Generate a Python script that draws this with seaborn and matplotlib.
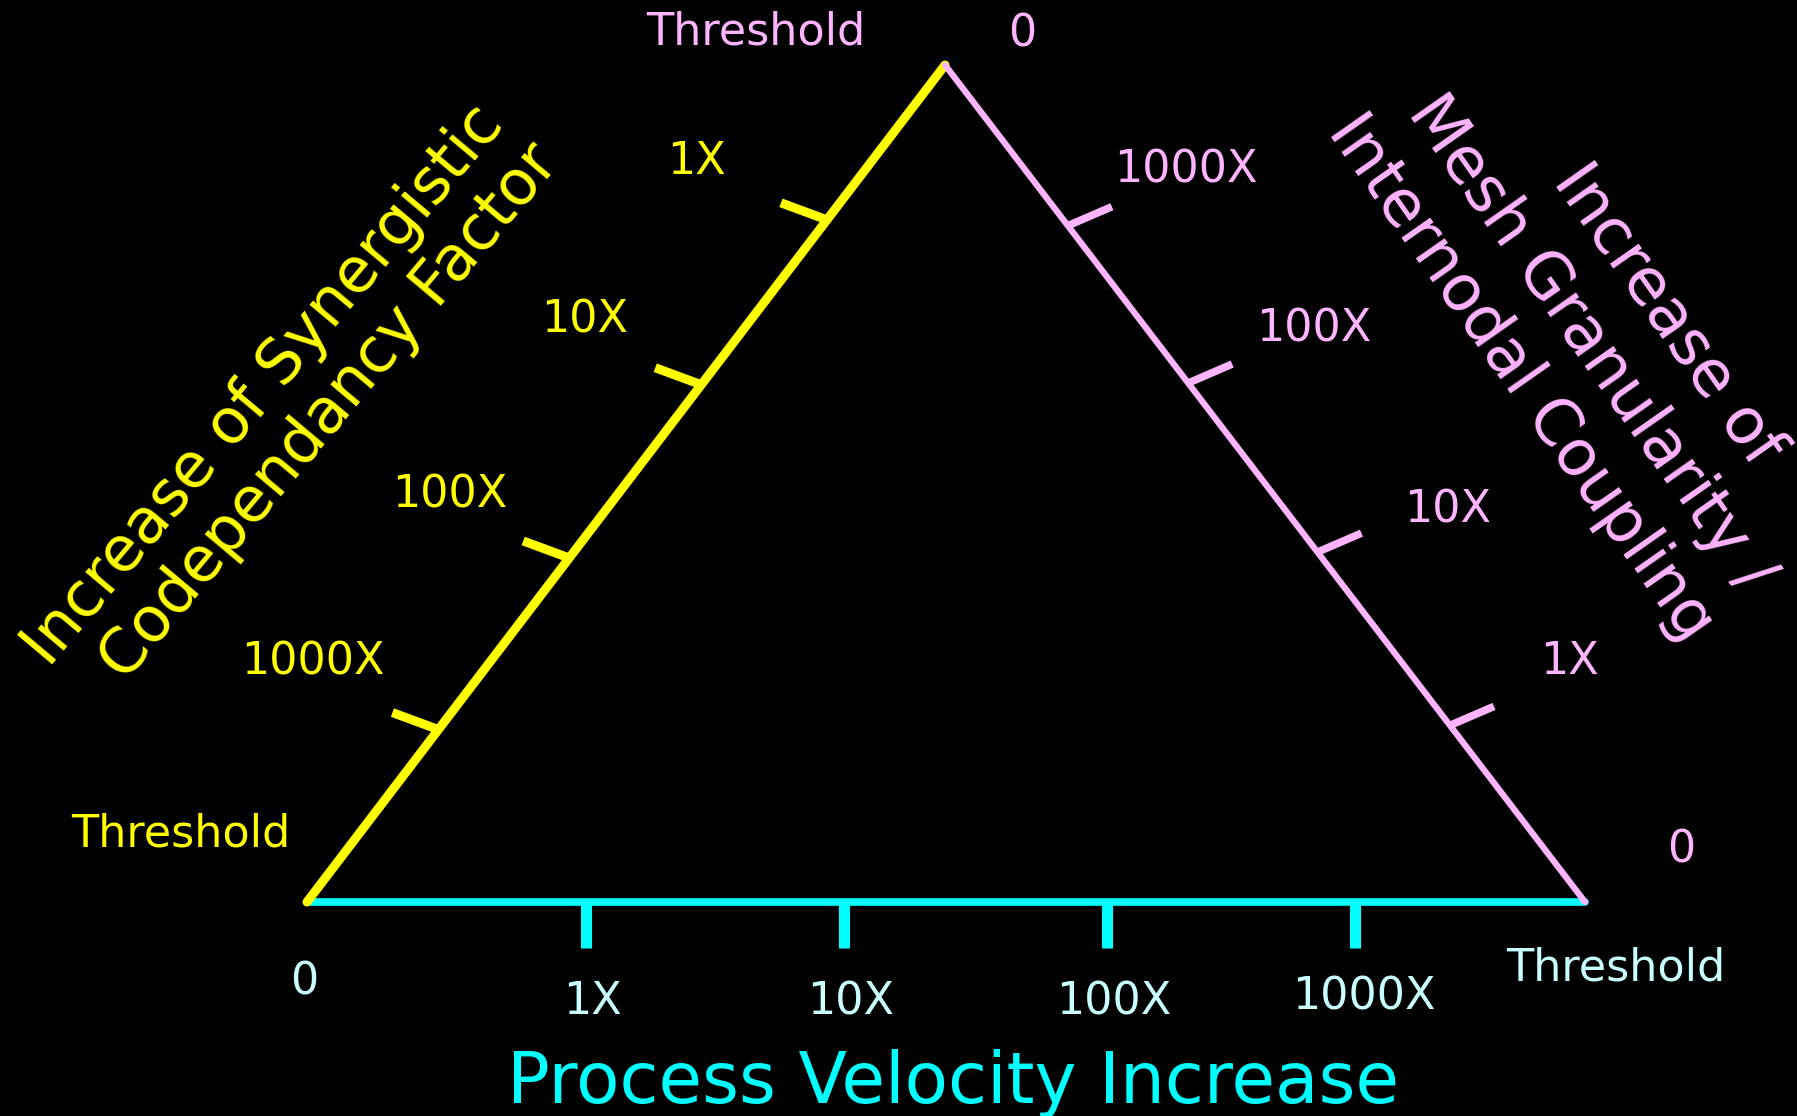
import numpy as np
import pandas as pd
import matplotlib.pyplot as plt
import seaborn as sns

# corners of the triangle in image pixels (x to the right, y downwards)
apex = (945, 65)
bottom_left = (307, 902)
bottom_right = (1585, 902)

tick_labels = ["0", "1X", "10X", "100X", "1000X", "Threshold"]

# position of each tick along its edge, measured from the "0" end
bottom_ticks = [0.0, 0.218, 0.42, 0.626, 0.82, 1.0]   # bottom left -> bottom right
left_ticks = [0.0, 0.185, 0.382, 0.589, 0.794, 1.0]   # apex -> bottom left
right_ticks = [0.0, 0.211, 0.418, 0.62, 0.808, 1.0]   # bottom right -> apex

left_title = ["Increase of Synergistic", "Codependancy Factor"]
right_title = ["Increase of", "Mesh Granularity /", "Internodal Coupling"]
bottom_title = "Process Velocity Increase"

YELLOW = "#ffff00"
CYAN = "#00ffff"
PALE_CYAN = "#c8ffff"
PINK = "#ffb4ff"

edges = {
    "bottom": dict(start=bottom_left, end=bottom_right, ticks=bottom_ticks,
                   color=CYAN, lw=5.5, tick_lw=8, tick_vec=(0, 46),
                   label_colors=[PALE_CYAN] * 6,
                   label_offsets=[(-3, 80), (7, 100), (7, 100), (7, 100), (9, 95), (31, 66)]),
    "left": dict(start=apex, end=bottom_left, ticks=left_ticks,
                 color=YELLOW, lw=6.5, tick_lw=6.5, tick_vec=(-46, -17),
                 label_colors=[PINK] + [YELLOW] * 5,
                 label_offsets=[(77, -31), (-130, -58), (-117, -65), (-119, -63), (-126, -68), (-126, -68)]),
    "right": dict(start=bottom_right, end=apex, ticks=right_ticks,
                  color=PINK, lw=4.5, tick_lw=5.5, tick_vec=(44, -19),
                  label_colors=[PINK] * 6,
                  label_offsets=[(96, -52), (120, -64), (130, -42), (126, -54), (118, -56), (-189, -33)]),
}

sns.set_theme(style="dark")
plt.rcParams["font.family"] = ["DejaVu Sans"]

fig = plt.figure(figsize=(17.97, 11.16), dpi=100, facecolor="black")
ax = fig.add_axes([0, 0, 1, 1])
ax.set_facecolor("black")
ax.set_xlim(0, 1797)
ax.set_ylim(1116, 0)
ax.axis("off")


def along(e, f):
    (x0, y0), (x1, y1) = e["start"], e["end"]
    return x0 + f * (x1 - x0), y0 + f * (y1 - y0)


for name, e in edges.items():
    line = pd.DataFrame({"x": [e["start"][0], e["end"][0]],
                         "y": [e["start"][1], e["end"][1]]})
    sns.lineplot(data=line, x="x", y="y", color=e["color"], linewidth=e["lw"],
                 sort=False, estimator=None, solid_capstyle="round", ax=ax)

    # tick marks for the inner four values
    rows = []
    for i, f in enumerate(e["ticks"][1:-1]):
        px, py = along(e, f)
        rows.append((px, py, i))
        rows.append((px + e["tick_vec"][0], py + e["tick_vec"][1], i))
    ticks = pd.DataFrame(rows, columns=["x", "y", "tick"])
    sns.lineplot(data=ticks, x="x", y="y", units="tick", color=e["color"],
                 linewidth=e["tick_lw"], sort=False, estimator=None,
                 solid_capstyle="butt", ax=ax)

    for lab, f, (dx, dy), c in zip(tick_labels, e["ticks"], e["label_offsets"], e["label_colors"]):
        px, py = along(e, f)
        ax.text(px + dx, py + dy, lab, color=c, fontsize=32, ha="center", va="center")

ax.set_xlabel("")
ax.set_ylabel("")

# axis titles
for txt, (cx, cy) in zip(left_title, [(264, 386), (330, 412)]):
    ax.text(cx, cy, txt, color=YELLOW, fontsize=45, rotation=50,
            rotation_mode="anchor", ha="center", va="center")

for txt, (cx, cy) in zip(right_title, [(1667, 315), (1590, 344), (1521, 378)]):
    ax.text(cx, cy, txt, color=PINK, fontsize=46, rotation=-55,
            rotation_mode="anchor", ha="center", va="center")

ax.text(953, 1083, bottom_title, color=CYAN, fontsize=51, ha="center", va="center")

fig.savefig("out.png", dpi=100, facecolor="black")
